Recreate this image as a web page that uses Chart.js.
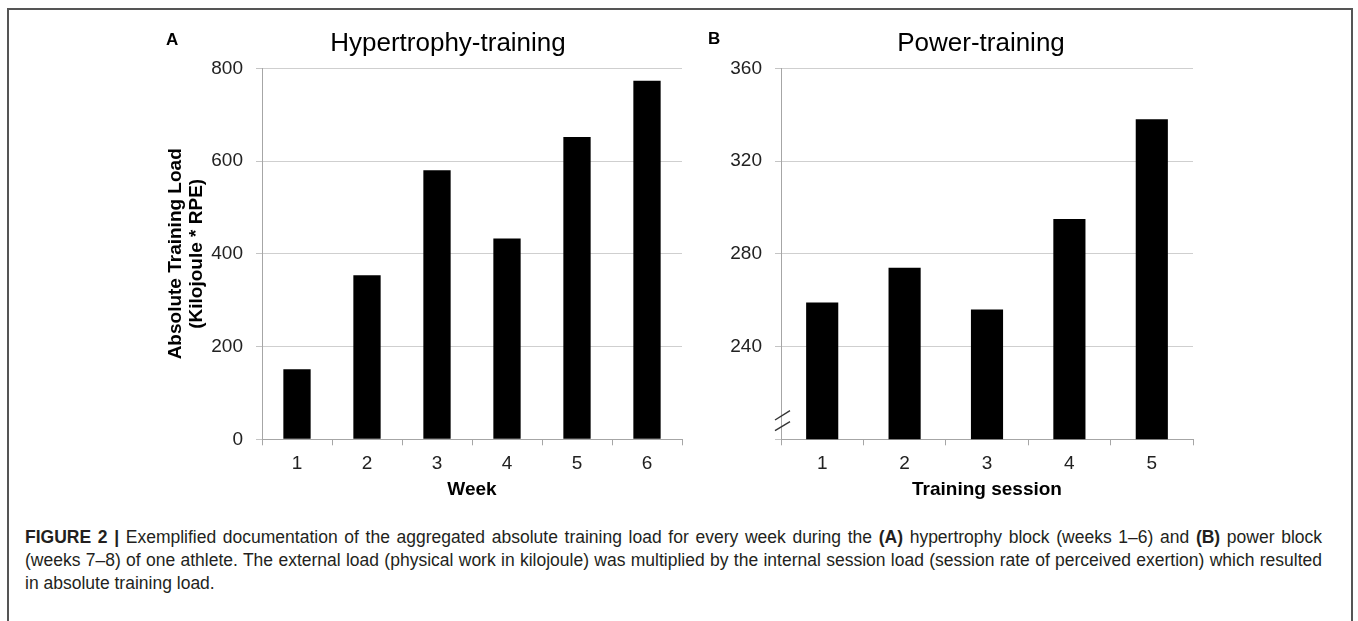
<!DOCTYPE html>
<html>
<head>
<meta charset="utf-8">
<script src="https://cdn.jsdelivr.net/npm/chart.js@4.4.1/dist/chart.umd.min.js"></script>
<style>
  body { margin: 0; background: #fff; width: 1358px; height: 621px; position: relative; overflow: hidden;
         font-family: "Liberation Sans", Arial, sans-serif; }
  .frame { position: absolute; left: 7px; top: 8px; width: 1342px; height: 640px;
           border: 2px solid #555; border-bottom: none; }
  canvas { position: absolute; top: 0; }
  #chartA { left: 148px; }
  #chartB { left: 700px; }
  .caption { position: absolute; left: 25px; top: 526px; font-size: 17.5px; line-height: 23px;
             color: #231f20; white-space: nowrap; }
  .caption div { width: 1297px; text-align: justify; text-align-last: justify; white-space: normal; }
  .caption div.last { text-align-last: left; }
</style>
</head>
<body>
<div class="frame"></div>
<canvas id="chartA" width="600" height="510"></canvas>
<canvas id="chartB" width="562" height="510"></canvas>
<div class="caption">
  <div><b>FIGURE 2 |</b> Exemplified documentation of the aggregated absolute training load for every week during the <b>(A)</b> hypertrophy block (weeks 1–6) and <b>(B)</b> power block</div>
  <div>(weeks 7–8) of one athlete. The external load (physical work in kilojoule) was multiplied by the internal session load (session rate of perceived exertion) which resulted</div>
  <div class="last">in absolute training load.</div>
</div>
<script>
// A: hypertrophy block, load per week
var weeks = ['1', '2', '3', '4', '5', '6'];
var weekLoad = [151, 354, 580, 433, 652, 773];
var weekTicks = [0, 200, 400, 600, 800];

// B: power block, load per session (axis starts at 200, broken)
var sessions = ['1', '2', '3', '4', '5'];
var sessionLoad = [259, 274, 256, 295, 338];
var sessionAxisMin = 200;
var sessionTicks = [240, 280, 320, 360];

Chart.defaults.font.family = '"Liberation Sans", Arial, sans-serif';
Chart.defaults.color = '#222';

// panel letter, panel title and axis break marks
var panelExtras = {
    id: 'panelExtras',
    afterDraw: function(chart, args, opts) {
        var ctx = chart.ctx;
        ctx.save();
        ctx.fillStyle = '#000';
        ctx.textBaseline = 'middle';
        ctx.font = 'bold 17px "Liberation Sans", Arial, sans-serif';
        ctx.fillText(opts.letter, opts.letterX, opts.letterY);
        ctx.font = '26px "Liberation Sans", Arial, sans-serif';
        ctx.textAlign = 'center';
        ctx.fillText(opts.title, opts.titleX, opts.titleY);
        if (opts.axisBreak) {
            var a = chart.chartArea;
            ctx.strokeStyle = '#333';
            ctx.lineWidth = 1.4;
            [[-8.6, -17.6], [-19.3, -28.6]].forEach(function(d) {
                ctx.beginPath();
                ctx.moveTo(a.left - 6, a.bottom + d[0]);
                ctx.lineTo(a.left + 9, a.bottom + d[1]);
                ctx.stroke();
            });
        }
        ctx.restore();
    }
};

function makeChart(id, o) {
    return new Chart(document.getElementById(id), {
        type: 'bar',
        data: {
            labels: o.labels,
            datasets: [{
                data: o.values,
                backgroundColor: '#000',
                barPercentage: 0.39,
                categoryPercentage: 1
            }]
        },
        options: {
            responsive: false,
            animation: false,
            layout: { padding: { top: 68.3, right: o.padRight } },
            plugins: {
                legend: { display: false },
                tooltip: { enabled: false },
                panelExtras: {
                    letter: o.letter, letterX: o.letterX, letterY: o.letterY,
                    title: o.title, titleX: o.titleX, titleY: 44,
                    axisBreak: o.axisBreak
                }
            },
            scales: {
                x: {
                    grid: { drawOnChartArea: false, tickLength: 6, tickColor: '#a6a6a6' },
                    border: { color: '#a6a6a6' },
                    ticks: { font: { size: 19 }, padding: 7 },
                    title: { display: true, text: o.xTitle, color: '#000',
                             font: { size: 19, weight: 'bold' }, padding: { top: 0, bottom: 8.6 } },
                    afterFit: function(s) { s.height = 70.7; }
                },
                y: {
                    min: o.yMin,
                    max: o.yMax,
                    ticks: {
                        stepSize: o.yStep,
                        font: { size: 19 },
                        padding: 13,
                        callback: function(v) { return o.yTicks.indexOf(v) >= 0 ? v : ''; }
                    },
                    grid: { color: '#cfcfcf', tickLength: 6, tickColor: '#c4c4c4' },
                    border: { color: '#a6a6a6' },
                    title: { display: !!o.yTitle, text: o.yTitle, color: '#000',
                             font: { size: 19, weight: 'bold', lineHeight: 1.1 }, padding: { top: 17 } },
                    afterFit: function(s) { s.width = o.yWidth; }
                }
            }
        },
        plugins: [panelExtras]
    });
}

makeChart('chartA', {
    labels: weeks, values: weekLoad, title: 'Hypertrophy-training', titleX: 300, xTitle: 'Week',
    yTitle: ['Absolute Training Load', '(Kilojoule * RPE)'],
    yMin: weekTicks[0], yMax: weekTicks[weekTicks.length - 1], yStep: 200, yTicks: weekTicks,
    yWidth: 114, padRight: 66, letter: 'A', letterX: 18, letterY: 40, axisBreak: false
});

makeChart('chartB', {
    labels: sessions, values: sessionLoad, title: 'Power-training', titleX: 281, xTitle: 'Training session',
    yTitle: '',
    yMin: sessionAxisMin, yMax: sessionTicks[sessionTicks.length - 1], yStep: 40, yTicks: sessionTicks,
    yWidth: 81, padRight: 69, letter: 'B', letterX: 8, letterY: 39, axisBreak: true
});
</script>
</body>
</html>
